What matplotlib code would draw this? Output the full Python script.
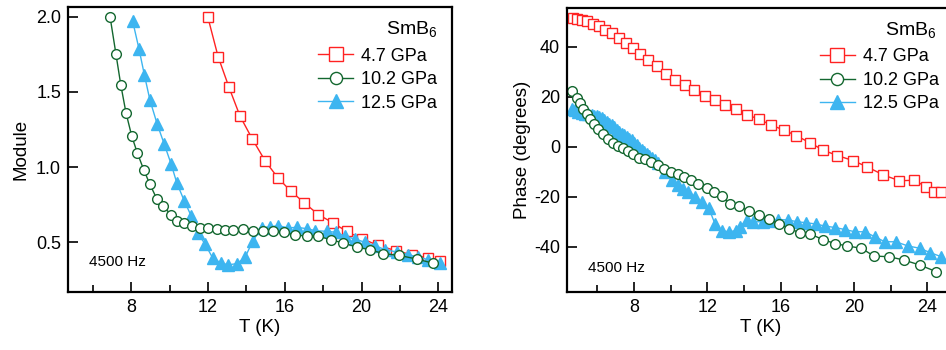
import numpy as np
import matplotlib
matplotlib.use("Agg")
import matplotlib.pyplot as plt
from matplotlib.ticker import MultipleLocator

plt.rcParams['font.family'] = ['Liberation Sans', 'DejaVu Sans']
plt.rcParams['mathtext.fontset'] = 'custom'
plt.rcParams['mathtext.rm'] = 'Liberation Sans'
plt.rcParams['mathtext.default'] = 'regular'
plt.rcParams['axes.unicode_minus'] = False

# ---- module (left panel) ----
T_mod_47 = [11.98, 12.52, 13.09, 13.66, 14.29, 14.98, 15.63, 16.31, 17.02, 17.74,
            18.50, 19.22, 20.01, 20.87, 21.79, 22.61, 23.48, 24.09]
M_47 = [2.00, 1.735, 1.53, 1.34, 1.19, 1.04, 0.93, 0.84, 0.762, 0.685,
        0.63, 0.573, 0.524, 0.48, 0.444, 0.418, 0.395, 0.378]

T_mod_102 = [6.89, 7.20, 7.45, 7.72, 8.02, 8.31, 8.66, 8.97, 9.32, 9.67, 10.05, 10.40,
             10.75, 11.15, 11.58, 12.01, 12.45, 12.88, 13.32, 13.81, 14.33, 14.85,
             15.40, 15.96, 16.53, 17.14, 17.74, 18.39, 19.05, 19.75, 20.44, 21.13,
             21.97, 22.87, 23.71]
M_102 = [2.00, 1.75, 1.547, 1.362, 1.207, 1.095, 0.978, 0.885, 0.791, 0.74, 0.685, 0.64,
         0.629, 0.607, 0.596, 0.593, 0.591, 0.582, 0.582, 0.591, 0.573, 0.578,
         0.578, 0.567, 0.551, 0.54, 0.54, 0.518, 0.495, 0.469, 0.451, 0.425,
         0.413, 0.389, 0.362]

T_mod_125 = [8.07, 8.40, 8.68, 8.97, 9.35, 9.72, 10.07, 10.37, 10.75, 11.11, 11.46,
             11.84, 12.24, 12.67, 13.05, 13.49, 13.93, 14.33, 14.80, 15.23, 15.66,
             16.18, 16.62, 17.14, 17.57, 18.18, 18.67, 19.14, 19.66, 20.18, 20.70,
             21.22, 21.83, 22.43, 22.96, 23.48, 24.09]
M_125 = [1.97, 1.785, 1.613, 1.445, 1.285, 1.151, 1.022, 0.895, 0.778, 0.678, 0.562,
         0.489, 0.396, 0.362, 0.351, 0.358, 0.40, 0.511, 0.596, 0.604, 0.611,
         0.596, 0.60, 0.591, 0.578, 0.573, 0.567, 0.54, 0.522, 0.50, 0.478,
         0.451, 0.436, 0.418, 0.402, 0.384, 0.362]

# ---- phase (right panel) ----
T_ph_47 = [4.65, 4.92, 5.18, 5.46, 5.76, 6.07, 6.41, 6.78, 7.20, 7.56, 7.93, 8.33,
           8.74, 9.23, 9.74, 10.25, 10.78, 11.30, 11.85, 12.41, 12.97, 13.56, 14.17,
           14.81, 15.46, 16.17, 16.86, 17.59, 18.33, 19.08, 19.93, 20.73, 21.60,
           22.47, 23.28, 23.92, 24.35, 24.76]
P_47 = [51.4, 51.3, 50.8, 50.2, 49.3, 48.2, 46.9, 45.6, 43.7, 41.6, 39.7, 37.3,
        34.7, 32.3, 29.3, 26.9, 24.7, 22.7, 20.3, 18.7, 16.9, 15.3, 12.7,
        11.1, 8.7, 6.7, 4.4, 1.6, -1.4, -3.5, -5.5, -8.1, -11.3,
        -13.6, -13.4, -16.0, -18.2, -18.2]

T_ph_102 = [4.64, 4.88, 5.06, 5.24, 5.42, 5.60, 5.84, 6.06, 6.33, 6.60, 6.87, 7.15,
            7.42, 7.69, 7.96, 8.27, 8.60, 8.93, 9.29, 9.65, 10.02, 10.38, 10.74,
            11.10, 11.50, 11.96, 12.37, 12.78, 13.23, 13.75, 14.29, 14.82, 15.37,
            15.92, 16.46, 17.04, 17.62, 18.28, 18.95, 19.62, 20.40, 21.07, 21.91,
            22.71, 23.58, 24.49]
P_102 = [22.4, 19.7, 17.6, 15.3, 13.3, 11.0, 9.1, 7.0, 5.3, 3.3, 1.6, 0.3,
         -0.6, -1.6, -2.9, -4.3, -4.7, -6.0, -7.3, -8.7, -10.0, -10.7, -12.0,
         -13.3, -14.9, -16.3, -18.0, -19.7, -22.9, -23.8, -25.8, -27.3, -29.0,
         -30.9, -32.7, -34.4, -34.9, -37.1, -38.7, -39.7, -40.6, -43.7, -44.0,
         -45.3, -47.3, -50.0]

T_ph_125 = [4.64, 4.80, 4.97, 5.15, 5.33, 5.51, 5.69, 5.83, 5.97, 6.10, 6.24, 6.38,
            6.51, 6.65, 6.78, 6.92, 7.06, 7.20, 7.33, 7.47, 7.60, 7.74, 7.87, 8.01,
            8.15, 8.28, 8.42, 8.56, 8.69, 8.83, 8.96, 9.14, 9.32, 9.69, 10.05,
            10.41, 10.69, 10.96, 11.32, 11.69, 12.08, 12.41, 12.81, 13.17, 13.54,
            13.77, 14.14, 14.50, 15.04, 15.45, 15.86, 16.41, 16.90, 17.40, 17.91,
            18.40, 18.95, 19.49, 20.04, 20.58, 21.13, 21.67, 22.27, 22.94, 23.58,
            24.16, 24.76]
P_125 = [15.3, 14.6, 14.0, 13.6, 13.3, 13.0, 12.7, 12.5, 12.3, 11.8, 11.4, 10.7,
         10.0, 9.3, 8.7, 7.8, 6.9, 6.1, 5.3, 4.6, 4.0, 3.3, 2.7, 1.7,
         0.7, -0.3, -1.3, -2.0, -2.7, -3.5, -4.3, -5.3, -6.4, -10.0, -13.3,
         -15.3, -16.7, -18.0, -20.0, -22.0, -24.6, -30.7, -33.6, -34.0, -33.6,
         -32.0, -29.3, -30.0, -30.0, -29.5, -29.1, -29.3, -30.0, -30.4, -30.9,
         -31.7, -32.3, -33.1, -34.0, -34.0, -36.0, -38.0, -38.0, -39.7, -40.6,
         -42.4, -44.0]

labels = ['4.7 GPa', '10.2 GPa', '12.5 GPa']
c_red = '#ff2222'
c_green = '#13672f'
c_blue = '#3db5f0'

fig = plt.figure(figsize=(9.46, 3.5), dpi=100)
ax1 = fig.add_axes([68 / 946, 58 / 350, 384 / 946, 285 / 350])
ax2 = fig.add_axes([567 / 946, 58 / 350, 388 / 946, 284 / 350])


def draw(ax, xs, ys, title_x, hz_xy):
    ax.plot(xs[0], ys[0], '-', color=c_red, lw=1.0, marker='s', ms=7.5,
            mfc='white', mec=c_red, mew=1.0, label=labels[0])
    ax.plot(xs[2], ys[2], '-', color=c_blue, lw=1.0, marker='^', ms=8,
            mfc=c_blue, mec=c_blue, mew=1.0, label=labels[2])
    ax.plot(xs[1], ys[1], '-', color=c_green, lw=1.0, marker='o', ms=7,
            mfc='white', mec=c_green, mew=1.0, label=labels[1])
    h, l = ax.get_legend_handles_labels()
    order = [0, 2, 1]
    ax.legend([h[i] for i in order], [l[i] for i in order],
              fontsize=13, loc='center left', bbox_to_anchor=(0.651, 0.745),
              frameon=False, borderpad=0, borderaxespad=0,
              handlelength=1.95, handletextpad=0.45, labelspacing=0.36,
              markerscale=1.25)
    ax.text(title_x, 0.922, 'SmB$_6$', transform=ax.transAxes, fontsize=14,
            ha='right', va='center')
    ax.text(hz_xy[0], hz_xy[1], '4500 Hz', transform=ax.transAxes, fontsize=11)
    ax.xaxis.set_major_locator(MultipleLocator(4))
    ax.xaxis.set_minor_locator(MultipleLocator(2))
    ax.tick_params(which='both', direction='in', width=1.2, labelsize=13)
    ax.tick_params(which='major', length=7)
    ax.tick_params(which='minor', length=5)
    ax.tick_params(axis='x', pad=5)
    ax.tick_params(axis='y', pad=5)
    for s in ax.spines.values():
        s.set_linewidth(1.6)
    ax.set_xlabel('T (K)', fontsize=13.5, labelpad=2)


draw(ax1, [T_mod_47, T_mod_102, T_mod_125], [M_47, M_102, M_125], 0.963, (0.055, 0.09))
ax1.set_xlim(4.7, 24.71)
ax1.set_ylim(0.17, 2.064)
ax1.set_yticks([0.5, 1.0, 1.5, 2.0])
ax1.set_ylabel('Module', fontsize=13.5, labelpad=5)

draw(ax2, [T_ph_47, T_ph_102, T_ph_125], [P_47, P_102, P_125], 0.952, (0.054, 0.07))
ax2.set_xlim(4.35, 25.5)
ax2.set_ylim(-58.1, 55.5)
ax2.set_yticks([-40, -20, 0, 20, 40])
ax2.set_ylabel('Phase (degrees)', fontsize=13.5, labelpad=2)

fig.savefig('out.png', dpi=100)
